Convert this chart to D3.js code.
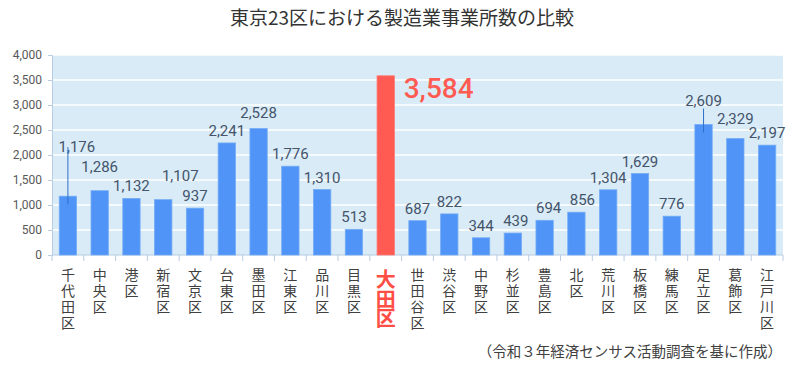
<!DOCTYPE html>
<html lang="ja">
  <head>
    <meta charset="UTF-8" />
    <title>東京23区における製造業事業所数の比較</title>
    <script src="https://cdn.jsdelivr.net/npm/d3@7"></script>
    <style>
      body { margin: 0; background: #fff; }
      text { font-family: "Noto Sans CJK JP", "Noto Sans", sans-serif; }
    </style>
  </head>
  <body>
    <script>
      const wards = ["千代田区", "中央区", "港区", "新宿区", "文京区", "台東区", "墨田区", "江東区", "品川区", "目黒区", "大田区",
        "世田谷区", "渋谷区", "中野区", "杉並区", "豊島区", "北区", "荒川区", "板橋区", "練馬区", "足立区", "葛飾区", "江戸川区"];
      const counts = [1176, 1286, 1132, 1107, 937, 2241, 2528, 1776, 1310, 513, 3584,
        687, 822, 344, 439, 694, 856, 1304, 1629, 776, 2609, 2329, 2197];
      const yTicks = [0, 500, 1000, 1500, 2000, 2500, 3000, 3500, 4000];
      const highlight = "大田区";

      const width = 800, height = 372;
      const margin = { top: 55, right: 17, bottom: 117, left: 52 };
      const innerW = width - margin.left - margin.right;
      const innerH = height - margin.top - margin.bottom;

      // label nudges (dx, dy) where the original moved labels around
      const nudge = {
        "千代田区": [9, -37], "中央区": [0, -12], "新宿区": [17, -12], "墨田区": [0, -4],
        "杉並区": [3, 0], "豊島区": [4, 0], "北区": [6, 0], "足立区": [0, -12], "葛飾区": [0, -8]
      };
      const leaders = { "千代田区": [-49, 8], "足立区": [-16, 8] };

      const svg = d3.select("body").append("svg")
        .attr("width", width).attr("height", height);

      svg.append("text")
        .attr("x", 402).attr("y", 25)
        .attr("text-anchor", "middle")
        .attr("font-size", 19)
        .attr("fill", "#333")
        .text("東京23区における製造業事業所数の比較");

      const g = svg.append("g").attr("transform", `translate(${margin.left},${margin.top})`);

      const x = d3.scaleBand().domain(wards).range([0, innerW]).paddingInner(0.455).paddingOuter(0.2275);
      const y = d3.scaleLinear().domain([0, 4000]).range([innerH, 0]);

      g.append("rect").attr("width", innerW).attr("height", innerH).attr("fill", "#d8ebf7");

      g.selectAll(".grid").data(yTicks.slice(1)).enter().append("line")
        .attr("x1", 0).attr("x2", innerW)
        .attr("y1", d => y(d)).attr("y2", d => y(d))
        .attr("stroke", "#fff").attr("stroke-width", 1.5);

      const yAxis = g.append("g")
        .call(d3.axisLeft(y).tickValues(yTicks).tickFormat(d3.format(",")).tickSize(4).tickPadding(6));
      yAxis.select(".domain").attr("stroke", "#b8cce4");
      yAxis.selectAll(".tick line").attr("stroke", "#b8cce4");
      yAxis.selectAll(".tick text").attr("font-size", 12).attr("fill", "#595959")
        .style("font-family", "Roboto, 'Noto Sans', sans-serif");

      const step = x.step();
      const xAxis = g.append("g").attr("transform", `translate(0,${innerH})`);
      xAxis.append("line").attr("x1", 0).attr("x2", innerW).attr("stroke", "#b8cce4");
      xAxis.selectAll("line.tk").data(d3.range(wards.length + 1)).enter().append("line")
        .attr("class", "tk")
        .attr("x1", i => i * step).attr("x2", i => i * step)
        .attr("y1", 0).attr("y2", 6)
        .attr("stroke", "#b8cce4");

      g.selectAll(".bar").data(wards).enter().append("rect")
        .attr("x", d => x(d))
        .attr("y", (d, i) => y(counts[i]))
        .attr("width", x.bandwidth())
        .attr("height", (d, i) => innerH - y(counts[i]))
        .attr("fill", d => d === highlight ? "#ff5b52" : "#4f94f6")
        .attr("stroke", d => d === highlight ? "#ff7a72" : "#74abf5")
        .attr("stroke-width", 0.8);

      // value labels
      wards.forEach((w, i) => {
        const cx = x(w) + x.bandwidth() / 2;
        const top = y(counts[i]);
        if (w === highlight) {
          g.append("text")
            .attr("x", cx + 18).attr("y", top + 22)
            .attr("font-size", 28).attr("font-weight", 500)
            .attr("fill", "#ff5b52")
            .style("font-family", "Roboto, 'Noto Sans', sans-serif")
            .text(d3.format(",")(counts[i]));
          return;
        }
        const [dx, dy] = nudge[w] || [0, 0];
        g.append("text")
          .attr("x", cx + dx).attr("y", top - 7 + dy)
          .attr("text-anchor", "middle")
          .attr("font-size", 15)
          .attr("fill", "#44546a")
          .style("font-family", "Roboto, 'Noto Sans', sans-serif")
          .text(d3.format(",")(counts[i]));
        if (leaders[w]) {
          g.append("line")
            .attr("x1", cx).attr("x2", cx)
            .attr("y1", top + leaders[w][0]).attr("y2", top + leaders[w][1])
            .attr("stroke", "#2f6fc9").attr("stroke-width", 1);
        }
      });

      // vertical category labels, one tspan per character
      wards.forEach(w => {
        const cx = x(w) + x.bandwidth() / 2;
        const hl = w === highlight;
        const t = g.append("text")
          .attr("text-anchor", "middle")
          .attr("font-size", hl ? 20 : 14)
          .attr("font-weight", hl ? "bold" : "normal")
          .attr("fill", hl ? "#ff4f45" : "#404040");
        Array.from(w).forEach((c, k) => {
          t.append("tspan")
            .attr("x", cx)
            .attr("y", innerH + (hl ? 32 : 25) + k * (hl ? 19.5 : 16))
            .text(c);
        });
      });

      svg.append("text")
        .attr("x", 782).attr("y", 357)
        .attr("text-anchor", "end")
        .attr("font-size", 14.5)
        .attr("fill", "#404040")
        .text("（令和３年経済センサス活動調査を基に作成）");
    </script>
  </body>
</html>
